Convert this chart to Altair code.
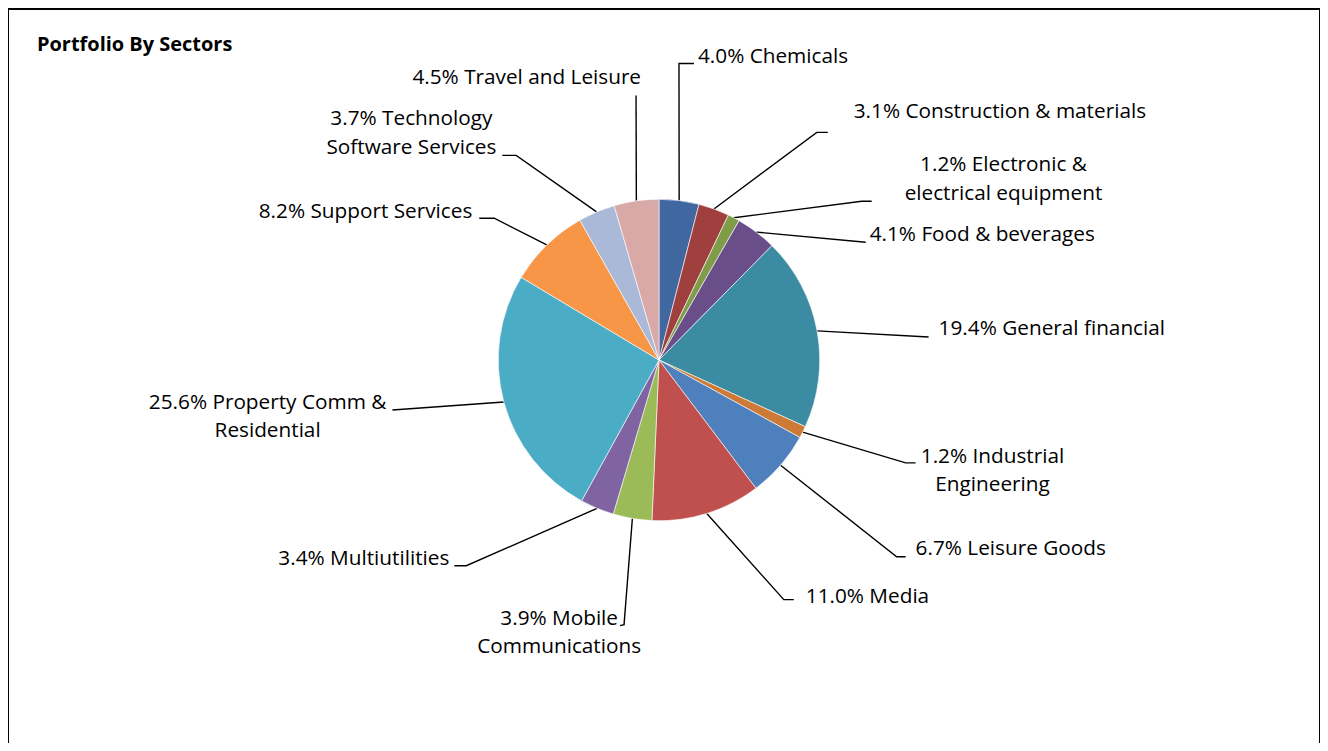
import altair as alt
import pandas as pd
import numpy as np

# ---------------- data ----------------
sectors = [
    "Chemicals", "Construction & materials", "Electronic & electrical equipment",
    "Food & beverages", "General financial", "Industrial Engineering",
    "Leisure Goods", "Media", "Mobile Communications", "Multiutilities",
    "Property Comm & Residential", "Support Services",
    "Technology Software Services", "Travel and Leisure",
]
label_names = [
    "Chemicals", "Construction & materials", "Electronic &\nelectrical equipment",
    "Food & beverages", "General financial", "Industrial\nEngineering",
    "Leisure Goods", "Media", "Mobile\nCommunications", "Multiutilities",
    "Property Comm &\nResidential", "Support Services",
    "Technology\nSoftware Services", "Travel and Leisure",
]
values = [4.0, 3.1, 1.2, 4.1, 19.4, 1.2, 6.7, 11.0, 3.9, 3.4, 25.6, 8.2, 3.7, 4.5]
colors = [
    "#4067A0", "#A0403E", "#7F9C48", "#6A4E8A", "#3B8CA2", "#CC7A35", "#4E80BD",
    "#C0504D", "#9BBB59", "#8064A2", "#4BACC6", "#F79646", "#AAB9D8", "#D9A9A8",
]

# ---------------- layout (page pixels) ----------------
OX, OY = 8, 8
W, H = 1314, 735
CX, CY, R = 660, 360, 161
FONT = "Open Sans"

label_pos = [  # (x, y of first line, align)
    (699, 57, "left"), (855, 112, "left"), (1005, 165, "center"), (871, 235, "left"),
    (940, 329, "left"), (994, 457, "center"), (917, 549, "left"), (807, 597, "left"),
    (560, 619, "center"), (450, 559, "right"), (268, 403, "center"), (473, 212, "right"),
    (412, 119, "center"), (642, 78, "right"),
]
leader_bend = [
    (680, 63), (818, 132), (863, 201), (867, 242), (930, 337), (907, 463), (898, 557),
    (785, 600), (625, 625), (467, 566), (393, 410), (495, 218), (517, 155), (637, 95),
]
leader_end = [
    (695, 63), (829, 132), (873, 201), (867, 242), (930, 337), (917, 463), (907, 557),
    (795, 600), (621, 626), (455, 566), (393, 410), (480, 218), (503, 155), (637, 95),
]

# ---------------- tables ----------------
df = pd.DataFrame({
    "idx": range(len(sectors)),
    "sector": sectors,
    "value": values,
})
df["label"] = [f"{v:.1f}% {n}" for v, n in zip(values, label_names)]
cum = np.cumsum(values)
mid = (cum - np.array(values) / 2) / cum[-1] * 2 * np.pi
df["sx"] = CX + R * np.sin(mid) - OX
df["sy"] = CY - R * np.cos(mid) - OY
df["lx"] = [p[0] - OX for p in label_pos]
df["ly"] = [p[1] - OY for p in label_pos]
df["align"] = [p[2] for p in label_pos]

rows = []
for i, s in enumerate(sectors):
    rows.append({"sector": s, "pt": 0, "x": df.loc[i, "sx"], "y": df.loc[i, "sy"]})
    rows.append({"sector": s, "pt": 1, "x": leader_bend[i][0] - OX, "y": leader_bend[i][1] - OY})
    rows.append({"sector": s, "pt": 2, "x": leader_end[i][0] - OX, "y": leader_end[i][1] - OY})
lines_df = pd.DataFrame(rows)

xs = alt.Scale(domain=[0, W], range=[0, W], nice=False, zero=False)
ys = alt.Scale(domain=[0, H], range=[0, H], nice=False, zero=False)

pie = alt.Chart(df).mark_arc(
    outerRadius=R, stroke="white", strokeWidth=0.6
).encode(
    theta=alt.Theta("value:Q", stack=True),
    order=alt.Order("idx:Q"),
    color=alt.Color("sector:N", scale=alt.Scale(domain=sectors, range=colors), legend=None),
    x=alt.value(CX - OX),
    y=alt.value(CY - OY),
)

leaders = alt.Chart(lines_df).mark_line(color="black", strokeWidth=1.4).encode(
    x=alt.X("x:Q", scale=xs, axis=None),
    y=alt.Y("y:Q", scale=ys, axis=None),
    detail="sector:N",
    order="pt:Q",
)

def text_layer(al):
    return alt.Chart(df).transform_filter(alt.datum.align == al).mark_text(
        align=al, baseline="middle", font=FONT, fontSize=20.8, color="black",
        lineBreak="\n", lineHeight=28.5,
    ).encode(
        x=alt.X("lx:Q", scale=xs, axis=None),
        y=alt.Y("ly:Q", scale=ys, axis=None),
        text="label:N",
    )

title = alt.Chart(pd.DataFrame({"t": ["Portfolio By Sectors"]})).mark_text(
    align="left", baseline="middle", font=FONT, fontSize=20, fontWeight="bold", color="black",
).encode(x=alt.value(37 - OX), y=alt.value(45 - OY), text="t:N")

border_l = alt.Chart(df).mark_rule(color="black", strokeWidth=1.5).encode(
    x=alt.value(0), y=alt.value(0), y2=alt.value(H + 20))
border_t = alt.Chart(df).mark_rule(color="black", strokeWidth=1.5).encode(
    x=alt.value(0), x2=alt.value(W), y=alt.value(0))
border_r = alt.Chart(df).mark_rule(color="black", strokeWidth=1.5).encode(
    x=alt.value(W), y=alt.value(0), y2=alt.value(H + 20))

chart = alt.layer(
    border_l, border_t, border_r, leaders, pie,
    text_layer("left"), text_layer("right"), text_layer("center"), title,
).properties(
    width=W, height=H, padding=0, autosize="none", background="white",
).configure_view(stroke=None)

chart.save("out.html", embed_options={"renderer": "svg", "actions": False})
